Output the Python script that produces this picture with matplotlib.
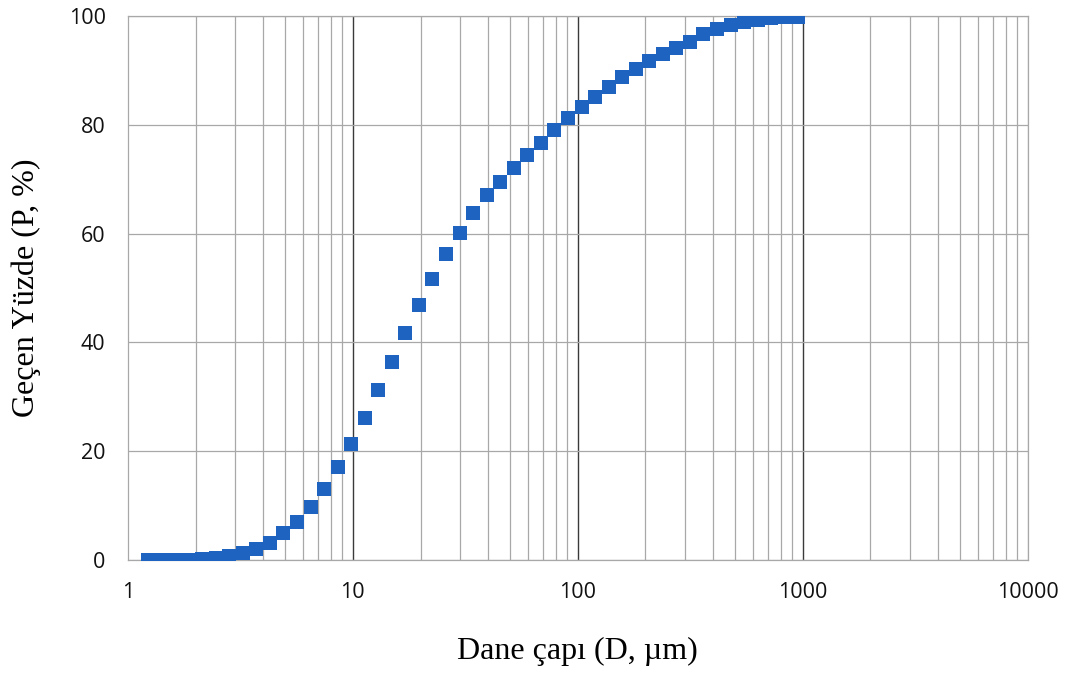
import matplotlib
matplotlib.use('Agg')
import matplotlib.pyplot as plt
from matplotlib.ticker import LogLocator, FixedLocator, NullFormatter

# Dane çapı (µm) ve geçen yüzde (%)
dane_capi = [1.23, 1.41, 1.62, 1.86, 2.14, 2.46, 2.83, 3.25, 3.73, 4.29,
             4.92, 5.66, 6.50, 7.46, 8.57, 9.85, 11.3, 13.0, 14.9, 17.1,
             19.7, 22.6, 26.0, 29.9, 34.3, 39.4, 45.3, 52.0, 59.7, 68.6,
             78.8, 90.5, 104, 119, 137, 158, 181, 208, 239, 274,
             315, 362, 416, 478, 549, 630, 724, 832, 955]
gecen_yuzde = [0.0, 0.0, 0.0, 0.05, 0.2, 0.4, 0.7, 1.3, 2.0, 3.1,
               5.0, 7.0, 9.8, 13.0, 17.0, 21.4, 26.1, 31.2, 36.4, 41.7,
               46.9, 51.7, 56.2, 60.1, 63.8, 67.1, 69.5, 72.1, 74.4, 76.7,
               79.0, 81.2, 83.3, 85.1, 86.9, 88.8, 90.3, 91.7, 93.0, 94.1,
               95.2, 96.7, 97.6, 98.3, 98.9, 99.4, 99.6, 99.8, 99.9]

x_ticks = [1, 10, 100, 1000, 10000]
x_tick_labels = ['1', '10', '100', '1000', '10000']
y_ticks = [0, 20, 40, 60, 80, 100]

fig = plt.figure(figsize=(10.65, 6.77), dpi=100)
ax = fig.add_axes([0.120, 0.173, 0.845, 0.803])

ax.set_xscale('log')
ax.set_xlim(1, 10000)
ax.set_ylim(0, 100)

# ızgara çizgileri
ax.xaxis.set_minor_locator(LogLocator(base=10, subs=range(2, 10)))
ax.xaxis.set_minor_formatter(NullFormatter())
ax.grid(which='minor', axis='x', color='#a8a8a8', lw=0.9)
ax.grid(which='major', axis='y', color='#a8a8a8', lw=0.9)
for v in [10, 100, 1000]:
    ax.axvline(v, color='#3a3a3a', lw=1.0, zorder=1)
ax.axvline(10000, color='#a8a8a8', lw=0.9, zorder=1)

ax.plot(dane_capi, gecen_yuzde, linestyle='none', marker='s',
        markersize=9.5, color='#1f63c0', markeredgewidth=0, zorder=3)

ax.xaxis.set_major_locator(FixedLocator(x_ticks))
ax.set_xticklabels(x_tick_labels)
ax.set_yticks(y_ticks)

for s in ax.spines.values():
    s.set_color('#a8a8a8')
    s.set_linewidth(0.9)

ax.tick_params(which='both', length=0)
ax.tick_params(axis='x', pad=16, labelsize=15.5, labelcolor='#111111')
ax.tick_params(axis='y', pad=16, labelsize=15.5, labelcolor='#111111')
for lab in ax.get_xticklabels() + ax.get_yticklabels():
    lab.set_family('Open Sans')

ax.set_xlabel('Dane çapı (D, µm)', family='Liberation Serif', fontsize=23, labelpad=24)
ax.set_ylabel('Geçen Yüzde (P, %)', family='Liberation Serif', fontsize=23, labelpad=20)

fig.savefig('out.png', dpi=100)
